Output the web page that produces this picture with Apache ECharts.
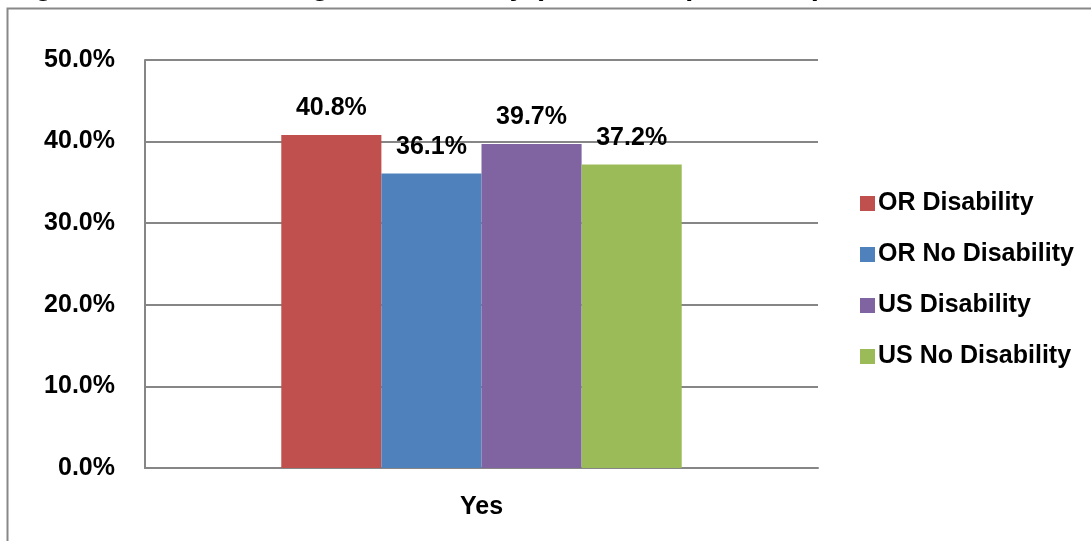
<!DOCTYPE html>
<html>
<head>
<meta charset="utf-8">
<script src="https://cdn.jsdelivr.net/npm/echarts@6/dist/echarts.min.js"></script>
<style>
  html, body { margin: 0; padding: 0; background: #fff; }
  #chart { width: 1091px; height: 541px; }
</style>
</head>
<body>
<div id="chart"></div>
<script>
// data
const categories = ['Yes'];
const seriesNames = ['OR Disability', 'OR No Disability', 'US Disability', 'US No Disability'];
const seriesValues = [[40.8], [36.1], [39.7], [37.2]];
const seriesColors = ['#C0504D', '#4F81BD', '#8064A2', '#9BBB59'];
const yTicks = [0, 10, 20, 30, 40, 50];

const font = '"Liberation Sans", Arial, sans-serif';
const chart = echarts.init(document.getElementById('chart'));

const series = seriesNames.map(function (name, i) {
    return {
        name: name,
        type: 'bar',
        data: seriesValues[i],
        barGap: '0%',
        barCategoryGap: '40.5%',
        itemStyle: { color: seriesColors[i] },
        label: {
            show: true,
            position: 'top',
            distance: 14,
            fontFamily: font,
            fontWeight: 'bold',
            fontSize: 25,
            color: '#000',
            formatter: function (p) { return p.value.toFixed(1) + '%'; }
        }
    };
});

const option = {
    animation: false,
    title: {
        // only the bottom of the title shows in the reference, it is cut off above
        text: 'Figure 10b, HIV Testing and Disability (All of the questions)',
        left: 4,
        top: -33,
        textStyle: { fontFamily: font, fontWeight: 'bold', fontSize: 29, color: '#000' }
    },
    graphic: [{
        type: 'rect',
        shape: { x: 7.5, y: 8.5, width: 1200, height: 700 },
        style: { fill: null, stroke: '#888', lineWidth: 2 },
        silent: true
    }],
    grid: { left: 145, right: 273, top: 60, bottom: 73, containLabel: false },
    legend: {
        orient: 'vertical',
        left: 855,
        top: 186,
        itemWidth: 15,
        itemHeight: 15,
        itemGap: 26,
        icon: 'rect',
        textStyle: { fontFamily: font, fontWeight: 'bold', fontSize: 25, color: '#000', padding: [0, 0, 0, -2] },
        data: seriesNames
    },
    xAxis: {
        type: 'category',
        data: categories,
        axisLine: { show: true, lineStyle: { color: '#868686', width: 2 } },
        axisTick: { show: false },
        axisLabel: { margin: 27, fontFamily: font, fontWeight: 'bold', fontSize: 25, color: '#000' }
    },
    yAxis: {
        type: 'value',
        min: yTicks[0],
        max: yTicks[yTicks.length - 1],
        interval: 10,
        axisLine: { show: true, lineStyle: { color: '#868686', width: 2 } },
        axisTick: { show: false },
        splitLine: { show: true, lineStyle: { color: '#868686', width: 2 } },
        axisLabel: {
            margin: 30,
            fontFamily: font,
            fontWeight: 'bold',
            fontSize: 25,
            color: '#000',
            formatter: function (v) { return v.toFixed(1) + '%'; }
        }
    },
    series: series
};
chart.setOption(option);
</script>
</body>
</html>
